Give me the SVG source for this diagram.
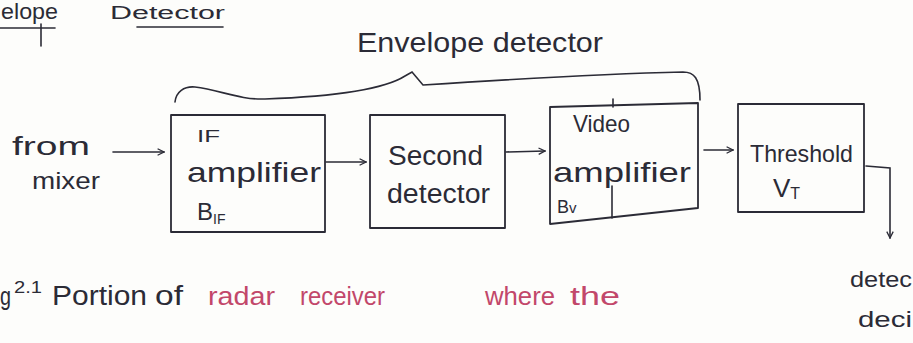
<svg xmlns="http://www.w3.org/2000/svg" width="913" height="343" viewBox="0 0 913 343">
<style>
  .bg{fill:#fdfdfb}
  .box{fill:none;stroke:#2b2b36;stroke-width:1.8;stroke-linejoin:round}
  .ink{fill:#2b2b36;font-family:"Liberation Sans","DejaVu Sans",sans-serif}
  .pink{fill:#c2476a;font-family:"Liberation Sans","DejaVu Sans",sans-serif}
  .line{fill:none;stroke:#2b2b36;stroke-width:1.6;stroke-linecap:round}
</style>
<defs>
  <marker id="ah" viewBox="0 0 10 10" refX="9" refY="5" markerWidth="8" markerHeight="8" orient="auto" markerUnits="userSpaceOnUse">
    <path d="M1,1 L9,5 L1,9" fill="none" stroke="#2b2b36" stroke-width="1.6"/>
  </marker>
</defs>
<rect class="bg" x="0" y="0" width="913" height="343"/>

<g id="heading">
  <text class="ink" x="1" y="19" font-size="22" textLength="57" lengthAdjust="spacingAndGlyphs">elope</text>
  <line class="line" x1="0" y1="28" x2="55" y2="28"/>
  <line class="line" x1="41" y1="24" x2="41" y2="46" stroke-width="1"/>
  <text class="ink" x="110" y="19" font-size="18" textLength="115" lengthAdjust="spacingAndGlyphs">Detector</text>
  <line class="line" x1="137" y1="27" x2="223" y2="27" stroke-width="2.2"/>
</g>

<g id="envelope-label">
  <text class="ink" x="357" y="52" font-size="28" textLength="246" lengthAdjust="spacingAndGlyphs">Envelope detector</text>
  <path class="line" d="M175,102 C176,92 184,86 195,87 C220,90 240,100 265,99 C320,97 380,92 405,76 L412,72 L423,85 C500,80 600,74 683,72 C694,72 700,78 700,100"/>
</g>

<g id="source">
  <text class="ink" x="12" y="155" font-size="26" textLength="78" lengthAdjust="spacingAndGlyphs">from</text>
  <text class="ink" x="32" y="189" font-size="24" textLength="68" lengthAdjust="spacingAndGlyphs">mixer</text>
</g>

<g id="if-amplifier">
  <rect class="box" x="171" y="115" width="154" height="117"/>
  <text class="ink" x="197" y="142" font-size="17" textLength="23" lengthAdjust="spacingAndGlyphs">IF</text>
  <text class="ink" x="187" y="182" font-size="28" textLength="134" lengthAdjust="spacingAndGlyphs">amplifier</text>
  <text class="ink" x="197" y="220" font-size="24">B<tspan font-size="14" dy="4">IF</tspan></text>
</g>

<g id="second-detector">
  <rect class="box" x="370" y="115" width="135" height="113"/>
  <text class="ink" x="388" y="165" font-size="27" textLength="95" lengthAdjust="spacingAndGlyphs">Second</text>
  <text class="ink" x="387" y="203" font-size="27" textLength="103" lengthAdjust="spacingAndGlyphs">detector</text>
</g>

<g id="video-amplifier">
  <path class="box" d="M550,107 L698,103 L698,208 L550,224 Z"/>
  <line class="line" x1="612" y1="186" x2="612" y2="218"/>
  <line class="line" x1="613" y1="99" x2="613" y2="107"/>
  <text class="ink" x="573" y="132" font-size="24" textLength="57" lengthAdjust="spacingAndGlyphs">Video</text>
  <text class="ink" x="553" y="182" font-size="28" textLength="138" lengthAdjust="spacingAndGlyphs">amplifier</text>
  <text class="ink" x="557" y="213" font-size="18">B<tspan font-size="15">v</tspan></text>
</g>

<g id="threshold">
  <rect class="box" x="738" y="104" width="126" height="108"/>
  <text class="ink" x="750" y="162" font-size="24" textLength="103" lengthAdjust="spacingAndGlyphs">Threshold</text>
  <text class="ink" x="773" y="197" font-size="26">V<tspan font-size="16" dy="2">T</tspan></text>
</g>

<g id="output-label">
  <text class="ink" x="850" y="287" font-size="22" textLength="62" lengthAdjust="spacingAndGlyphs">detec</text>
  <text class="ink" x="858" y="327" font-size="22" textLength="54" lengthAdjust="spacingAndGlyphs">deci</text>
</g>

<g id="connectors">
  <line class="line" x1="113" y1="152" x2="164" y2="152" marker-end="url(#ah)"/>
  <line class="line" x1="326" y1="162" x2="366" y2="162" marker-end="url(#ah)"/>
  <line class="line" x1="506" y1="152" x2="545" y2="151" marker-end="url(#ah)"/>
  <line class="line" x1="704" y1="150" x2="733" y2="150" marker-end="url(#ah)"/>
  <polyline class="line" points="866,166 890,168 890,238" marker-end="url(#ah)"/>
</g>

<g id="caption">
  <text class="ink" x="0" y="305" font-size="26" textLength="11" lengthAdjust="spacingAndGlyphs">g</text>
  <text class="ink" x="14" y="293" font-size="16" textLength="28" lengthAdjust="spacingAndGlyphs">2.1</text>
  <text class="ink" x="52" y="305" font-size="27" textLength="95" lengthAdjust="spacingAndGlyphs">Portion</text>
  <text class="ink" x="155" y="305" font-size="27" textLength="28" lengthAdjust="spacingAndGlyphs">of</text>
  <text class="pink" x="208" y="305" font-size="26" textLength="67" lengthAdjust="spacingAndGlyphs">radar</text>
  <text class="pink" x="300" y="305" font-size="26" textLength="85" lengthAdjust="spacingAndGlyphs">receiver</text>
  <text class="pink" x="485" y="305" font-size="26" textLength="70" lengthAdjust="spacingAndGlyphs">where</text>
  <text class="pink" x="570" y="305" font-size="26" textLength="50" lengthAdjust="spacingAndGlyphs">the</text>
</g>
</svg>
